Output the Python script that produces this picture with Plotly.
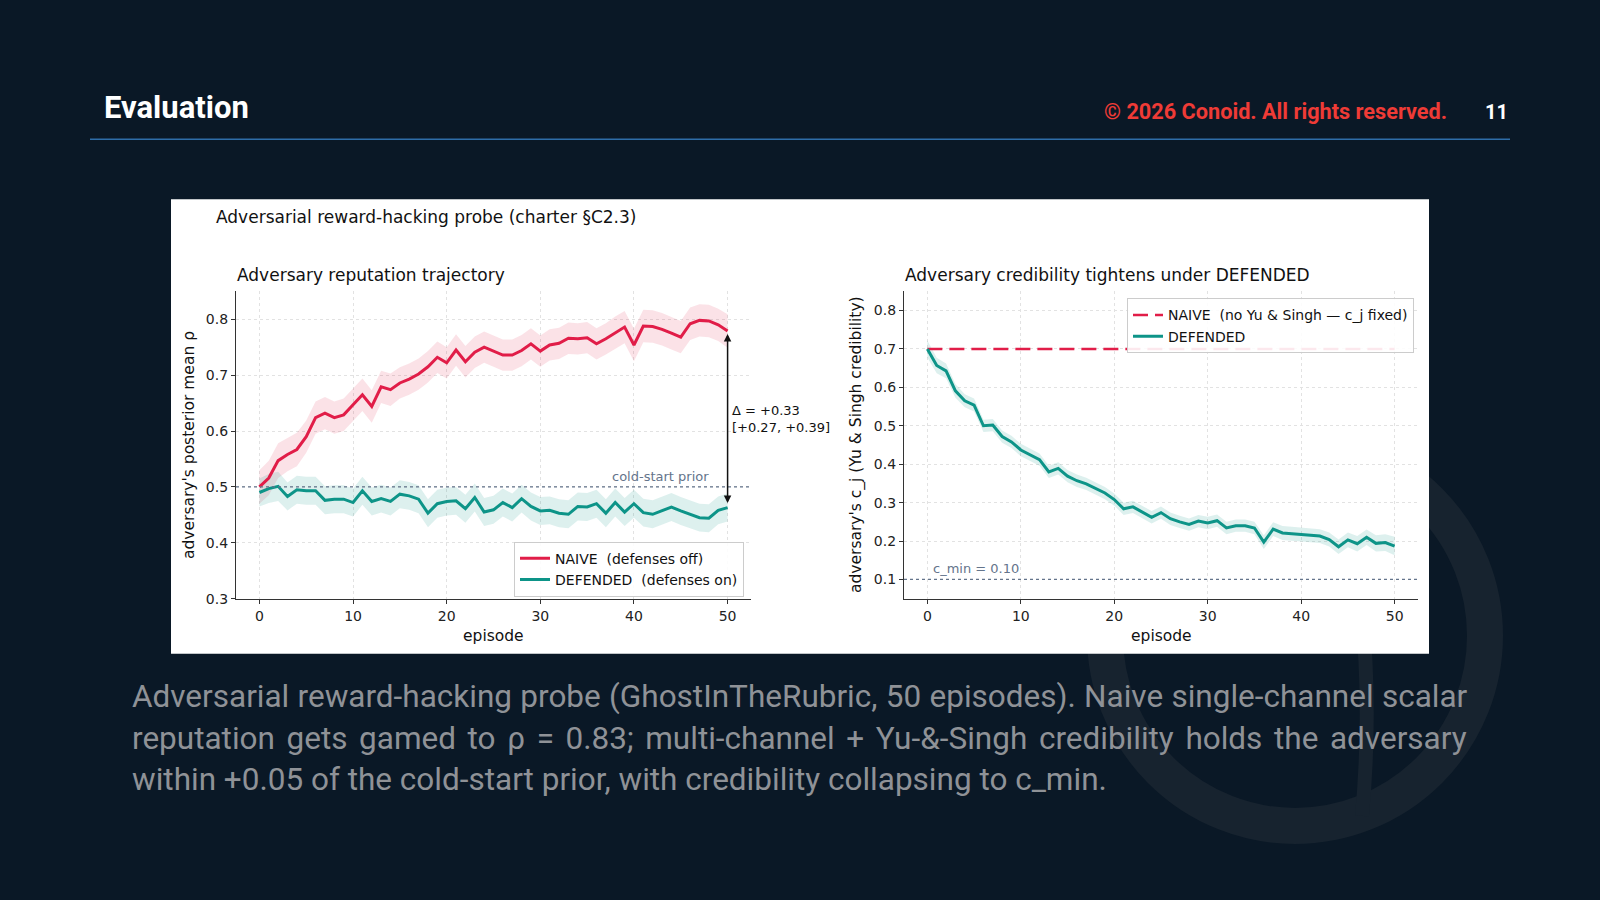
import plotly.graph_objects as go

W, H = 1600, 900
HR = 891  # effective rendered height used for paper-coordinate mapping

# ---------------- data ----------------
episodes = list(range(51))

naive_rho = [0.500, 0.516, 0.547, 0.558, 0.567, 0.590, 0.624, 0.632, 0.624, 0.629,
             0.647, 0.665, 0.644, 0.679, 0.674, 0.686, 0.693, 0.702, 0.715, 0.732,
             0.722, 0.745, 0.724, 0.741, 0.750, 0.743, 0.736, 0.736, 0.744, 0.756,
             0.743, 0.754, 0.757, 0.766, 0.765, 0.767, 0.756, 0.765, 0.776, 0.786,
             0.754, 0.788, 0.787, 0.782, 0.775, 0.768, 0.792, 0.798, 0.797, 0.790,
             0.779]
naive_rho_ci = [0.030, 0.031, 0.031, 0.030, 0.030, 0.029, 0.029, 0.029, 0.029, 0.029,
                0.029, 0.029, 0.029, 0.029, 0.029, 0.028, 0.028, 0.028, 0.028, 0.028,
                0.028, 0.028, 0.028, 0.028, 0.028, 0.028, 0.028, 0.028, 0.028, 0.028,
                0.028, 0.028, 0.028, 0.028, 0.028, 0.028, 0.028, 0.028, 0.029, 0.029,
                0.029, 0.029, 0.029, 0.029, 0.029, 0.029, 0.029, 0.029, 0.029, 0.029,
                0.030]

defended_rho = [0.490, 0.497, 0.501, 0.483, 0.495, 0.493, 0.493, 0.476, 0.478, 0.478,
                0.472, 0.493, 0.474, 0.479, 0.474, 0.487, 0.484, 0.478, 0.453, 0.470,
                0.474, 0.475, 0.461, 0.481, 0.455, 0.459, 0.472, 0.463, 0.479, 0.465,
                0.457, 0.458, 0.453, 0.451, 0.465, 0.464, 0.470, 0.453, 0.472, 0.455,
                0.470, 0.454, 0.451, 0.458, 0.464, 0.457, 0.451, 0.445, 0.444, 0.458,
                0.463]
defended_rho_ci = [0.025, 0.026, 0.026, 0.025, 0.025, 0.025, 0.025, 0.025, 0.025, 0.025,
                   0.025, 0.025, 0.025, 0.025, 0.025, 0.025, 0.025, 0.025, 0.025, 0.025,
                   0.025, 0.025, 0.025, 0.025, 0.025, 0.025, 0.025, 0.025, 0.025, 0.025,
                   0.025, 0.025, 0.025, 0.025, 0.025, 0.025, 0.025, 0.025, 0.025, 0.025,
                   0.025, 0.025, 0.025, 0.025, 0.025, 0.025, 0.025, 0.025, 0.025, 0.025,
                   0.025]

fixed_episodes = [0, 50]
naive_cj = [0.70, 0.70]

defended_cj = [0.700, 0.657, 0.643, 0.591, 0.565, 0.554, 0.500, 0.502, 0.472, 0.458,
               0.437, 0.424, 0.412, 0.380, 0.389, 0.369, 0.357, 0.349, 0.336, 0.325,
               0.308, 0.284, 0.289, 0.275, 0.262, 0.274, 0.258, 0.250, 0.243, 0.252,
               0.247, 0.253, 0.234, 0.240, 0.240, 0.234, 0.197, 0.231, 0.221, 0.219,
               0.217, 0.215, 0.213, 0.204, 0.185, 0.203, 0.193, 0.210, 0.194, 0.196,
               0.187]
defended_cj_ci = [0.022, 0.020, 0.019, 0.018, 0.017, 0.017, 0.016, 0.016, 0.016, 0.016,
                  0.016, 0.016, 0.016, 0.016, 0.016, 0.016, 0.016, 0.016, 0.016, 0.016,
                  0.016, 0.016, 0.016, 0.016, 0.016, 0.016, 0.016, 0.016, 0.016, 0.016,
                  0.016, 0.016, 0.016, 0.016, 0.016, 0.016, 0.018, 0.018, 0.018, 0.018,
                  0.018, 0.018, 0.018, 0.018, 0.019, 0.019, 0.020, 0.020, 0.021, 0.022,
                  0.024]

cold_start_prior = 0.5
c_min = 0.10
delta_text = "Δ = +0.33<br>[+0.27, +0.39]"

x_ticks = [0, 10, 20, 30, 40, 50]
rho_ticks = [0.3, 0.4, 0.5, 0.6, 0.7, 0.8]
cj_ticks = [0.1, 0.2, 0.3, 0.4, 0.5, 0.6, 0.7, 0.8]

caption_lines = [
    "Adversarial reward-hacking probe (GhostInTheRubric, 50 episodes). Naive single-channel scalar",
    "reputation gets gamed to ρ = 0.83; multi-channel + Yu-&-Singh credibility holds the adversary",
    "within +0.05 of the cold-start prior, with credibility collapsing to c_min.",
]
caption_word_spacing = [0.5, 3.8, 0.0]

# ---------------- style ----------------
BG = "#0a1826"
RED = "#e11d48"
TEAL = "#0d9488"
RED_BAND = "rgba(225,29,72,0.13)"
TEAL_BAND = "rgba(13,148,136,0.14)"
MPL = "DejaVu Sans"
SLIDE = "Roboto"


def px(x):
    return x / W


def py(y):
    return 1 - y / HR


fig = go.Figure()

# left panel bands and lines
lo = [m - c for m, c in zip(naive_rho, naive_rho_ci)]
hi = [m + c for m, c in zip(naive_rho, naive_rho_ci)]
fig.add_trace(go.Scatter(x=episodes, y=lo, mode="lines", line=dict(width=0), hoverinfo="skip",
                         showlegend=False, xaxis="x", yaxis="y"))
fig.add_trace(go.Scatter(x=episodes, y=hi, mode="lines", line=dict(width=0), fill="tonexty",
                         fillcolor=RED_BAND, hoverinfo="skip", showlegend=False, xaxis="x", yaxis="y"))
lo = [m - c for m, c in zip(defended_rho, defended_rho_ci)]
hi = [m + c for m, c in zip(defended_rho, defended_rho_ci)]
fig.add_trace(go.Scatter(x=episodes, y=lo, mode="lines", line=dict(width=0), hoverinfo="skip",
                         showlegend=False, xaxis="x", yaxis="y"))
fig.add_trace(go.Scatter(x=episodes, y=hi, mode="lines", line=dict(width=0), fill="tonexty",
                         fillcolor=TEAL_BAND, hoverinfo="skip", showlegend=False, xaxis="x", yaxis="y"))
fig.add_trace(go.Scatter(x=episodes, y=naive_rho, mode="lines", line=dict(color=RED, width=3),
                         name="NAIVE  (defenses off)", xaxis="x", yaxis="y", legend="legend"))
fig.add_trace(go.Scatter(x=episodes, y=defended_rho, mode="lines", line=dict(color=TEAL, width=3),
                         name="DEFENDED  (defenses on)", xaxis="x", yaxis="y", legend="legend"))

# right panel
lo = [m - c for m, c in zip(defended_cj, defended_cj_ci)]
hi = [m + c for m, c in zip(defended_cj, defended_cj_ci)]
fig.add_trace(go.Scatter(x=episodes, y=lo, mode="lines", line=dict(width=0), hoverinfo="skip",
                         showlegend=False, xaxis="x2", yaxis="y2"))
fig.add_trace(go.Scatter(x=episodes, y=hi, mode="lines", line=dict(width=0), fill="tonexty",
                         fillcolor=TEAL_BAND, hoverinfo="skip", showlegend=False, xaxis="x2", yaxis="y2"))
fig.add_trace(go.Scatter(x=fixed_episodes, y=naive_cj, mode="lines",
                         line=dict(color=RED, width=2.5, dash="15px,7px"),
                         name="NAIVE  (no Yu & Singh — c_j fixed)", xaxis="x2", yaxis="y2", legend="legend2"))
fig.add_trace(go.Scatter(x=episodes, y=defended_cj, mode="lines", line=dict(color=TEAL, width=3),
                         name="DEFENDED", xaxis="x2", yaxis="y2", legend="legend2"))

axis_common = dict(
    showline=True, linecolor="#333333", linewidth=1.2, mirror=False,
    ticks="outside", ticklen=4, tickwidth=1, tickcolor="#333333",
    showgrid=True, gridcolor="#e2e2e2", griddash="dot", gridwidth=1,
    zeroline=False, tickfont=dict(family=MPL, size=14, color="#222222"),
)

legend_common = dict(xanchor="left", yanchor="top", bgcolor="rgba(255,255,255,0.9)",
                     bordercolor="#cccccc", borderwidth=1, font=dict(family=MPL, size=14, color="#111111"),
                     itemwidth=30, tracegroupgap=0, traceorder="normal")

fig.update_layout(
    width=W, height=H,
    margin=dict(l=0, r=0, t=0, b=0),
    paper_bgcolor=BG, plot_bgcolor="rgba(0,0,0,0)",
    xaxis=dict(domain=[px(236), px(751)], range=[-2.5, 52.5], tickvals=x_ticks, anchor="y", **axis_common),
    yaxis=dict(domain=[py(598), py(291)], range=[0.3, 0.85], tickvals=rho_ticks, tickformat=".1f",
               anchor="x", **axis_common),
    xaxis2=dict(domain=[px(904), px(1418)], range=[-2.5, 52.5], tickvals=x_ticks, anchor="y2", **axis_common),
    yaxis2=dict(domain=[py(598), py(291)], range=[0.05, 0.85], tickvals=cj_ticks, tickformat=".1f",
                anchor="x2", **axis_common),
    legend=dict(x=px(514), y=py(541), **legend_common),
    legend2=dict(x=px(1127), y=py(298), **legend_common),
    showlegend=True,
)

shapes = [
    # background logo ring
    dict(type="circle", xref="paper", yref="paper", layer="below",
         x0=px(1105), x1=px(1485), y0=py(825), y1=py(445),
         line=dict(color="#17232f", width=36), fillcolor="rgba(0,0,0,0)"),
    dict(type="path", xref="paper", yref="paper", layer="below",
         path=f"M {px(1330)} {py(440)} Q {px(1380)} {py(620)} {px(1362)} {py(815)}",
         line=dict(color="#17232f", width=14)),
    # white panel
    dict(type="rect", xref="paper", yref="paper", layer="below",
         x0=px(171), x1=px(1429), y0=py(653), y1=py(199),
         fillcolor="white", line=dict(width=0)),
    # header rule
    dict(type="line", xref="paper", yref="paper", x0=px(90), x1=px(1510), y0=py(139), y1=py(139),
         line=dict(color="#2e6da8", width=1.5)),
    # reference lines
    dict(type="line", xref="x domain", yref="y", x0=0, x1=1, y0=cold_start_prior, y1=cold_start_prior,
         line=dict(color="#64748b", width=1.2, dash="dot")),
    dict(type="line", xref="x2 domain", yref="y2", x0=0, x1=1, y0=c_min, y1=c_min,
         line=dict(color="#64748b", width=1.2, dash="dot")),
]
fig.update_layout(shapes=shapes)

ann = []


def txt(text, x, y, size, color, family, xanchor="left", yanchor="middle", **kw):
    ann.append(dict(text=text, x=x, y=y, xref="paper", yref="paper", showarrow=False,
                    xanchor=xanchor, yanchor=yanchor, font=dict(size=size, color=color, family=family), **kw))


# slide header
txt("<b>Evaluation</b>", px(102), py(107), 31, "#ffffff", SLIDE)
txt("<b>© 2026 Conoid. All rights reserved.</b>", px(1449), py(111), 21.7, "#ef3b36", SLIDE, xanchor="right")
txt("<b>11</b>", px(1496), py(112), 20, "#ffffff", SLIDE, xanchor="center")

# chart titles
txt("Adversarial reward-hacking probe (charter §C2.3)", px(214), py(217), 17, "#111111", MPL)
txt("Adversary reputation trajectory", px(235), py(275), 17, "#111111", MPL)
txt("Adversary credibility tightens under DEFENDED", px(903), py(275), 17, "#111111", MPL)

# axis titles
txt("episode", px(493.5), py(635), 15.5, "#111111", MPL, xanchor="center")
txt("episode", px(1161), py(635), 15.5, "#111111", MPL, xanchor="center")
txt("adversary's posterior mean ρ", px(189), py(444.5), 15.5, "#111111", MPL, xanchor="center", textangle=-90)
txt("adversary's c_j (Yu & Singh credibility)", px(857), py(444.5), 15.5, "#111111", MPL,
    xanchor="center", textangle=-90)

# caption (justified via word spacing)
for i, (line, ws) in enumerate(zip(caption_lines, caption_word_spacing)):
    txt(f'<span style="word-spacing:{ws}px">{line}</span>', px(130), py(696 + i * 41.3), 31.5,
        "#8f9297", SLIDE)

# data annotations
ann.append(dict(text="cold-start prior", x=48.2, y=cold_start_prior, xref="x", yref="y", showarrow=False,
                xanchor="right", yanchor="bottom", yshift=1, font=dict(family=MPL, size=13, color="#64748b")))
ann.append(dict(text="c_min = 0.10", x=0.4, y=c_min, xref="x2", yref="y2", showarrow=False,
                xanchor="left", yanchor="bottom", yshift=1, font=dict(family=MPL, size=13, color="#64748b")))
ann.append(dict(text="", x=episodes[-1], y=naive_rho[-1], ax=episodes[-1], ay=defended_rho[-1],
                xref="x", yref="y", axref="x", ayref="y", showarrow=True, arrowside="end+start",
                arrowhead=2, arrowsize=1, arrowwidth=1.5, arrowcolor="#111111", standoff=3, startstandoff=3))
ann.append(dict(text=delta_text, x=50.3, y=(naive_rho[-1] + defended_rho[-1]) / 2, xref="x", yref="y",
                showarrow=False, xanchor="left", yanchor="middle", align="left",
                font=dict(family=MPL, size=13, color="#111111")))

fig.update_layout(annotations=ann)

fig.write_html("out.html")
